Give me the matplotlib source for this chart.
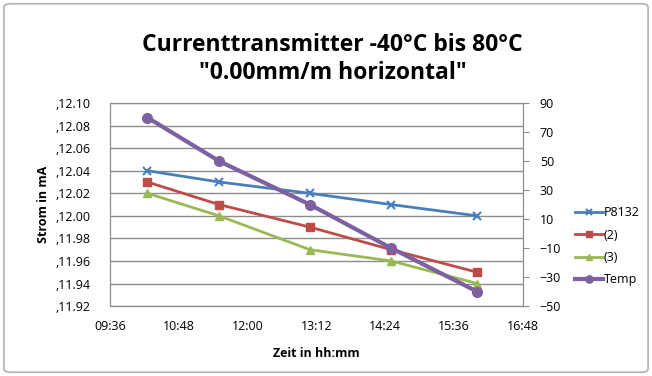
import matplotlib
matplotlib.use("Agg")
import matplotlib.pyplot as plt
import matplotlib.dates as mdates
from matplotlib.patches import FancyBboxPatch
import datetime as dt

plt.rcParams['font.family'] = ['Open Sans', 'DejaVu Sans']

times = ["10:15", "11:30", "13:05", "14:30", "16:00"]
p8132 = [12.04, 12.03, 12.02, 12.01, 12.00]
s2 = [12.03, 12.01, 11.99, 11.97, 11.95]
s3 = [12.02, 12.00, 11.97, 11.96, 11.94]
temp = [80, 50, 20, -10, -40]

left_ticks = [11.92, 11.94, 11.96, 11.98, 12.00, 12.02, 12.04, 12.06, 12.08, 12.10]
right_ticks = [-50, -30, -10, 10, 30, 50, 70, 90]

day = dt.date(2000, 1, 1)
def t(s):
    h, m = map(int, s.split(":"))
    return dt.datetime.combine(day, dt.time(h, m))
x = [t(s) for s in times]

fig = plt.figure(figsize=(6.52, 3.76), dpi=100)
fig.patches.append(FancyBboxPatch((0.006, 0.01), 0.988, 0.98, boxstyle="round,pad=0,rounding_size=0.01",
                                  transform=fig.transFigure, fill=False, edgecolor='#b0b0b0', lw=1.2))
ax = fig.add_axes([0.1687, 0.186, 0.6335, 0.54])
ax2 = ax.twinx()

c_blue, c_red, c_green, c_purple = '#4a7ebb', '#be4b48', '#98b954', '#7d60a0'
l1, = ax.plot(x, p8132, color=c_blue, lw=2, marker='x', ms=6, mew=1.5, label='P8132')
l2, = ax.plot(x, s2, color=c_red, lw=2, marker='s', ms=6, label='(2)')
l3, = ax.plot(x, s3, color=c_green, lw=2, marker='^', ms=6, label='(3)')
l4, = ax2.plot(x, temp, color=c_purple, lw=3, marker='o', ms=7, label='Temp')

ax.set_ylim(11.92, 12.10)
ax.set_yticks(left_ticks)
ax.set_yticklabels([',%.2f' % v for v in left_ticks], fontsize=9)
ax.grid(axis='y', color='#8c8c8c', lw=1)
ax.set_axisbelow(True)
ax.tick_params(axis='y', length=0, pad=14)

ax2.set_ylim(-50, 90)
ax2.set_yticks(right_ticks)
ax2.tick_params(axis='y', labelsize=9, length=4, color='#8c8c8c', pad=8)

ax.set_xlim(t("09:36"), t("16:48"))
ax.set_xticks([t("09:36") + dt.timedelta(minutes=72 * i) for i in range(7)])
ax.xaxis.set_major_formatter(mdates.DateFormatter("%H:%M"))
ax.tick_params(axis='x', labelsize=9, length=0, pad=10)

for a in (ax, ax2):
    for sp in a.spines.values():
        sp.set_color('#8c8c8c')

ax.set_xlabel("Zeit in hh:mm", fontsize=9, fontweight='bold', labelpad=10)
ax.set_ylabel("Strom in mA", fontsize=9, fontweight='bold', labelpad=4)

fig.text(0.51, 0.88, "Currenttransmitter -40°C bis 80°C", ha='center', va='center',
         fontsize=16.5, fontweight='bold')
fig.text(0.51, 0.807, "\"0.00mm/m horizontal\"", ha='center', va='center',
         fontsize=16.5, fontweight='bold')

fig.legend(handles=[l1, l2, l3, l4], loc='center left', bbox_to_anchor=(0.865, 0.345),
           frameon=False, fontsize=9, handlelength=2.2, handletextpad=0.1, labelspacing=0.75,
           markerscale=0.75)

fig.savefig("out.png", dpi=100)
